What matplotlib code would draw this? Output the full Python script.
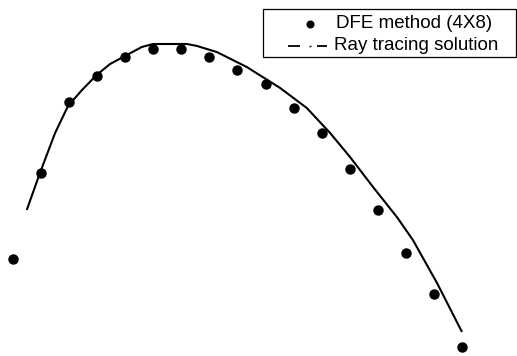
import matplotlib
matplotlib.use("Agg")
import matplotlib.pyplot as plt
from matplotlib.patches import Rectangle

plt.rcParams['font.family'] = ['Liberation Sans', 'DejaVu Sans']

# DFE method (4X8) samples
dfe_x = list(range(17))
dfe_y = [9.7, 18.3, 25.4, 28.0, 29.9, 30.7, 30.7, 29.9, 28.6, 27.2,
         24.8, 22.3, 18.7, 14.6, 10.3, 6.2, 0.9]

# Ray tracing solution
ray_x = [0.49, 0.96, 1.50, 1.96, 2.46, 2.98, 3.46, 3.99, 4.59, 4.99, 6.20,
         6.56, 7.26, 8.33, 9.52, 10.47, 11.30, 12.01, 12.83, 13.68, 14.25,
         15.11, 16.0]
ray_y = [14.6, 18.3, 22.3, 25.0, 26.6, 28.1, 29.2, 30.0, 30.9, 31.2, 31.2,
         31.0, 30.4, 28.9, 26.8, 24.8, 22.3, 19.9, 16.9, 13.9, 11.6,
         7.3, 2.4]

labels = ['DFE method (4X8)', 'Ray tracing solution']

W, H = 517, 356
fig = plt.figure(figsize=(W / 100, H / 100), dpi=100)
ax = fig.add_axes([0, 0, 1, 1])
ax.plot(ray_x, ray_y, color='black', lw=1.5, solid_capstyle='butt',
        solid_joinstyle='round')
ax.plot(dfe_x, dfe_y, 'o', color='black', markersize=6.5, lw=0)
ax.set_xlim(-0.463, 17.96)
ax.set_ylim(0, 35.6)
ax.axis('off')


def px(x, y):
    """Pixel position (from top-left) to axes fraction."""
    return x / W, 1 - y / H


# Legend box, drawn by hand so its proportions can be set freely
x0, y0 = px(263, 57)
x1, y1 = px(516, 9)
ax.add_patch(Rectangle((x0, y0), x1 - x0, y1 - y0, transform=ax.transAxes,
                       fill=False, edgecolor='black', lw=0.9, clip_on=False))

# Handle for the DFE samples
mx, my = px(310, 23.5)
ax.plot([mx], [my], 'o', color='black', markersize=4.8,
        transform=ax.transAxes, clip_on=False)

# Dash-dot handle for the ray tracing curve
ly = px(0, 45.5)[1]
for a, b in [(288, 300), (317, 327)]:
    ax.plot([px(a, 0)[0], px(b, 0)[0]], [ly, ly], color='black', lw=1.3,
            solid_capstyle='butt', transform=ax.transAxes, clip_on=False)
ax.plot([px(309.3, 0)[0], px(310.8, 0)[0]], [ly, ly], color='black', lw=1.0,
        solid_capstyle='butt', transform=ax.transAxes, clip_on=False)

for (cx, base), text in zip([(414.5, 28.5), (416.5, 50)], labels):
    tx, ty = px(cx, base)
    ax.text(tx, ty, text, transform=ax.transAxes, ha='center',
            va='baseline', fontsize=13.5, color='black')

fig.savefig('out.png', dpi=100)
